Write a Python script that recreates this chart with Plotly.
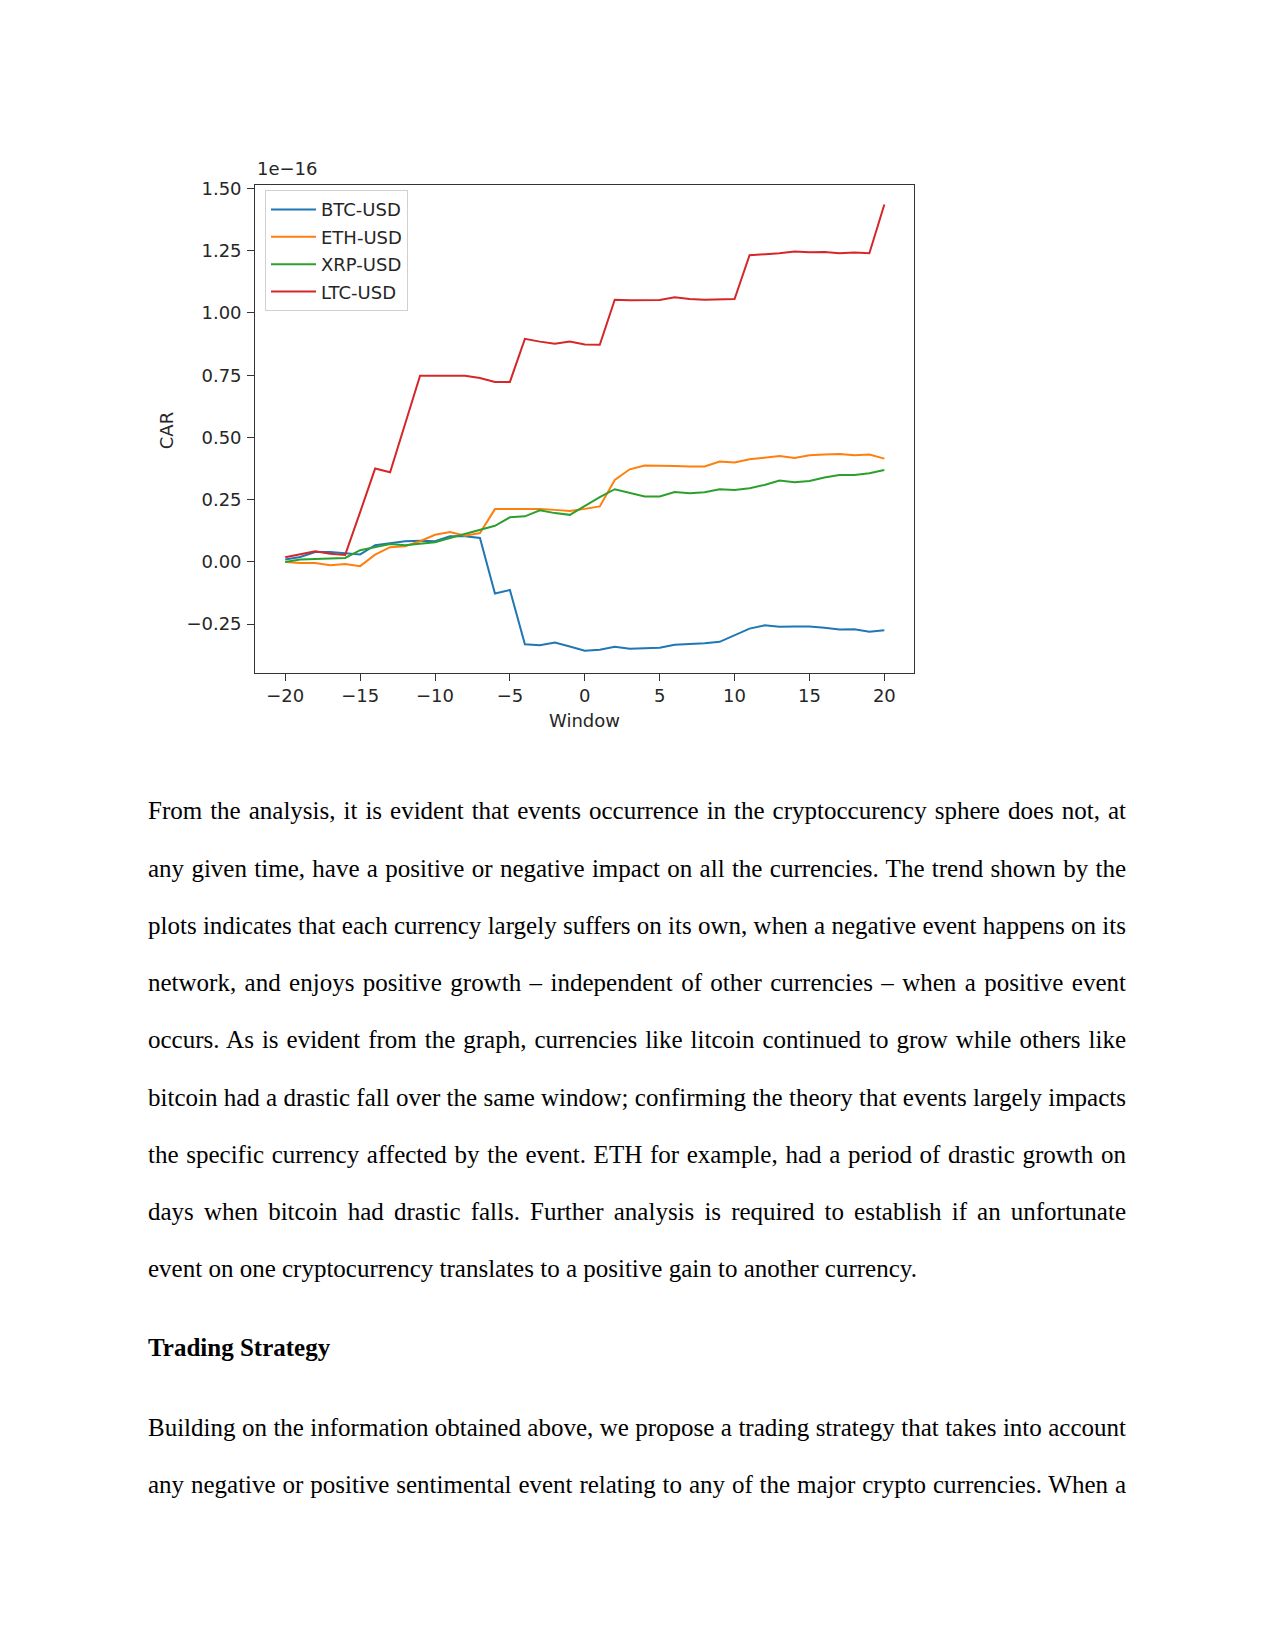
import plotly.graph_objects as go

# ventana del evento (dias)
window = list(range(-20, 21))

# CAR por moneda (en unidades de 1e-16)
btc = [0.010, 0.020, 0.040, 0.040, 0.035, 0.030, 0.067, 0.076, 0.083, 0.085, 0.083, 0.103, 0.103, 0.096,
       -0.127, -0.113, -0.331, -0.335, -0.324, -0.340, -0.357, -0.353, -0.341, -0.349, -0.347, -0.345,
       -0.333, -0.331, -0.327, -0.321, -0.293, -0.268, -0.255, -0.261, -0.260, -0.260, -0.265, -0.272,
       -0.271, -0.281, -0.275]
eth = [0.000, -0.004, -0.004, -0.013, -0.008, -0.017, 0.029, 0.059, 0.063, 0.083, 0.109, 0.120, 0.105, 0.116,
       0.212, 0.212, 0.213, 0.212, 0.209, 0.205, 0.213, 0.223, 0.329, 0.372, 0.387, 0.387, 0.385, 0.383,
       0.383, 0.403, 0.399, 0.412, 0.419, 0.425, 0.417, 0.428, 0.431, 0.433, 0.428, 0.431, 0.415]
xrp = [0.000, 0.010, 0.012, 0.013, 0.016, 0.047, 0.060, 0.072, 0.067, 0.073, 0.079, 0.096, 0.113, 0.129,
       0.145, 0.179, 0.183, 0.207, 0.196, 0.189, 0.225, 0.260, 0.292, 0.279, 0.263, 0.263, 0.281, 0.276,
       0.280, 0.292, 0.289, 0.296, 0.309, 0.327, 0.320, 0.325, 0.339, 0.349, 0.349, 0.356, 0.369]
ltc = [0.019, 0.030, 0.043, 0.033, 0.028, 0.200, 0.375, 0.360, 0.555, 0.748, 0.748, 0.748, 0.748, 0.739,
       0.723, 0.723, 0.896, 0.885, 0.876, 0.885, 0.873, 0.872, 1.053, 1.051, 1.051, 1.052, 1.063, 1.056,
       1.053, 1.053, 1.056, 1.232, 1.236, 1.240, 1.247, 1.244, 1.245, 1.240, 1.243, 1.240, 1.436]

series_names = ['BTC-USD', 'ETH-USD', 'XRP-USD', 'LTC-USD']
series_colors = ['#1f77b4', '#ff7f0e', '#2ca02c', '#d62728']

x_ticks = [-20, -15, -10, -5, 0, 5, 10, 15, 20]
x_ticktext = ['\u221220', '\u221215', '\u221210', '\u22125', '0', '5', '10', '15', '20']
y_ticks = [-0.25, 0, 0.25, 0.5, 0.75, 1.0, 1.25, 1.5]
y_ticktext = ['\u22120.25', '0.00', '0.25', '0.50', '0.75', '1.00', '1.25', '1.50']

# texto de la pagina
para1 = [
    "From the analysis, it is evident that events occurrence in the cryptoccurency sphere does not, at",
    "any given time, have a positive or negative impact on all the currencies. The trend shown by the",
    "plots indicates that each currency largely suffers on its own, when a negative event happens on its",
    "network, and enjoys positive growth \u2013 independent of other currencies \u2013 when a positive event",
    "occurs. As is evident from the graph, currencies like litcoin continued to grow while others like",
    "bitcoin had a drastic fall over the same window; confirming the theory that events largely impacts",
    "the specific currency affected by the event. ETH for example, had a period of drastic growth on",
    "days when bitcoin had drastic falls. Further analysis is required to establish if an unfortunate",
    "event on one cryptocurrency translates to a positive gain to another currency.",
]
heading = "Trading Strategy"
para2 = [
    "Building on the information obtained above, we propose a trading strategy that takes into account",
    "any negative or positive sentimental event relating to any of the major crypto currencies. When a",
]

W, H = 1275, 1651
AX_FONT = 'DejaVu Sans'
AX_COLOR = '#262626'
AX_SIZE = 18


def px(x):
    return x / W


def py(y):
    return 1 - y / H


fig = go.Figure()
for name, vals, col in zip(series_names, [btc, eth, xrp, ltc], series_colors):
    fig.add_trace(go.Scatter(
        x=window, y=vals, mode='lines', name=name, legendgroup=name,
        line=dict(color=col, width=2)
    ))

axis_common = dict(
    showline=True, mirror=True, linecolor='#333', linewidth=1.3,
    ticks='outside', ticklen=7, tickwidth=1.3, tickcolor='#333',
    showgrid=False, zeroline=False,
    tickfont=dict(family=AX_FONT, size=AX_SIZE, color=AX_COLOR),
)

fig.update_layout(
    width=W, height=H,
    margin=dict(l=0, r=0, t=0, b=0),
    paper_bgcolor='white', plot_bgcolor='white',
    xaxis=dict(domain=[px(255.3), px(914.3)], range=[-22, 22], ticklabelstandoff=-1,
               tickvals=x_ticks, ticktext=x_ticktext, **axis_common),
    yaxis=dict(domain=[py(669), py(178.3)], range=[-0.447, 1.516], ticklabelstandoff=2,
               tickvals=y_ticks, ticktext=y_ticktext, **axis_common),
    legend=dict(x=px(265), y=py(184), xanchor='left', yanchor='top',
                bgcolor='white', bordercolor='#d0d0d0', borderwidth=1,
                tracegroupgap=1, itemwidth=45,
                font=dict(family=AX_FONT, size=AX_SIZE, color=AX_COLOR)),
    showlegend=True,
)

# etiquetas de ejes y factor de escala
fig.add_annotation(x=px(166), y=py(426), xref='paper', yref='paper', text='CAR', textangle=-90,
                   xanchor='center', yanchor='middle',
                   showarrow=False, font=dict(family=AX_FONT, size=AX_SIZE, color=AX_COLOR))
fig.add_annotation(x=px(584), y=py(717), xref='paper', yref='paper', text='Window',
                   xanchor='center', yanchor='middle',
                   showarrow=False, font=dict(family=AX_FONT, size=AX_SIZE, color=AX_COLOR))
fig.add_annotation(x=px(255), y=py(162.5), xref='paper', yref='paper', text='1e\u221216',
                   xanchor='left', yanchor='middle',
                   showarrow=False, font=dict(family=AX_FONT, size=AX_SIZE, color=AX_COLOR))

# texto de los parrafos
TXT = dict(family='Liberation Serif', size=25, color='black')
TX = 146.4
justify_idx = []
lines = [(t, 807.2 + 57.5 * i, i < len(para1) - 1) for i, t in enumerate(para1)]
lines += [(t, 1426.3 + 57.45 * i, True) for i, t in enumerate(para2)]
for t, y, just in lines:
    if just:
        justify_idx.append(len(fig.layout.annotations))
    fig.add_annotation(x=px(TX), y=py(y), xref='paper', yref='paper', text=t,
                       xanchor='left', yanchor='middle', align='left', showarrow=False, font=TXT)
fig.add_annotation(x=px(TX), y=py(1346.5), xref='paper', yref='paper', text='<b>' + heading + '</b>',
                   xanchor='left', yanchor='middle', align='left', showarrow=False, font=TXT)

# justificar las lineas (ancho de la caja de texto = 978 px)
js = """
document.body.style.margin = '0';
var just = %s;
document.querySelectorAll('g.annotation').forEach(function(g){
  if (just.indexOf(+g.getAttribute('data-index')) < 0) return;
  var t = g.querySelector('text.annotation-text');
  var n = (t.textContent.match(/ /g) || []).length;
  var w = t.getComputedTextLength();
  if (n > 0 && w < 978) t.style.wordSpacing = ((978 - w) / n) + 'px';
});
""" % str(justify_idx)

fig.write_html("out.html", post_script=js, config={'displayModeBar': False})
